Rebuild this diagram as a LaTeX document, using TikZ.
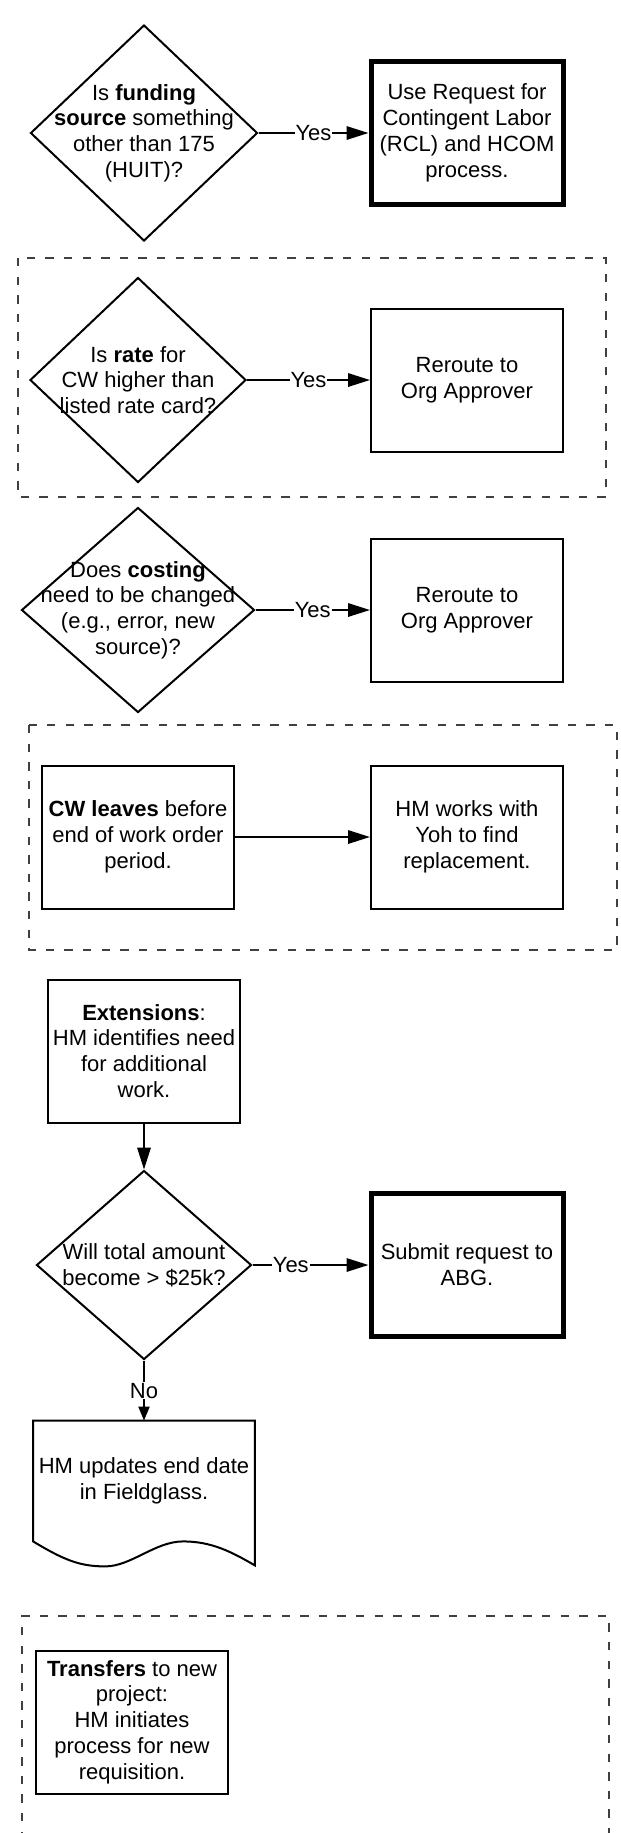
\documentclass[tikz,border=0pt]{standalone}
\usepackage{fontspec}
\setmainfont{Liberation Sans}
\usetikzlibrary{shapes.geometric, arrows.meta}
\tikzset{> = {Triangle[length=11pt, width=6.7pt]}}
\tikzset{
  process/.style = {rectangle, draw, line width=1pt, minimum width=96pt, minimum height=71.5pt, inner sep=0pt, align=center, font=\fontsize{11}{12.9}\selectfont},
  final/.style = {process, line width=2.5pt},
  decision/.style = {diamond, draw, line width=1pt, inner sep=0pt},
  qtext/.style = {align=center, inner sep=0pt, font=\fontsize{11}{12.9}\selectfont},
  choice/.style = {fill=white, inner sep=0.5pt, font=\fontsize{11}{12.9}\selectfont},
  dashedframe/.style = {draw=black!75, line width=1pt, dash pattern=on 4.2pt off 5.1pt}
}

\begin{document}
\begin{tikzpicture}[x=0.5pt, y=-0.5pt]
\useasboundingbox (0,0) rectangle (621,1833);
% dashed groups
\draw[dashedframe] (18,258) rectangle (606,497);
\draw[dashedframe] (29,725) rectangle (617,950);
\draw[dashedframe] (22,1840) -- (22,1616) -- (609,1616) -- (609,1840);
% nodes
\node[decision, minimum width=113.5pt, minimum height=108pt] (d1) at (144,133) {};
\node[qtext] (t1) at (d1) {Is \textbf{funding}\\\textbf{source} something\\other than 175\\(HUIT)?};
\node[final] (b1) at (467,133) {Use Request for\\Contingent Labor\\(RCL) and HCOM\\process.};

\node[decision, minimum width=108pt, minimum height=102.5pt] (d2) at (138,380) {};
\node[qtext] (t2) at (d2) {Is \textbf{rate} for\\CW higher than\\listed rate card?};
\node[process] (b2) at (467,380) {Reroute to\\Org Approver};

\node[decision, minimum width=116.5pt, minimum height=102.5pt] (d3) at (138,610) {};
\node[qtext] (t3) at (d3) {Does \textbf{costing}\\need to be changed\\(e.g., error, new\\source)?};
\node[process] (b3) at (467,610) {Reroute to\\Org Approver};

\node[process] (b4) at (138,837) {\textbf{CW leaves} before\\end of work order\\period.};
\node[process] (b5) at (467,837) {HM works with\\Yoh to find\\replacement.};

\node[process] (b6) at (144,1051) {\textbf{Extensions}:\\HM identifies need\\for additional\\work.};
\node[decision, minimum width=107.5pt, minimum height=94.5pt] (d4) at (144,1265) {};
\node[qtext] (t4) at (d4) {Will total amount\\become > \$25k?};
\node[final] (b7) at (467,1265) {Submit request to\\ABG.};

\node[qtext, minimum width=110.5pt, minimum height=60pt] (doc) at (144,1481) {HM updates end date\\in Fieldglass.};
\draw[line width=1pt] (doc.south west)
  .. controls +(15pt,-9pt) and +(-13pt,0pt) .. ([xshift=36pt, yshift=-12.5pt]doc.south west)
  .. controls +(13pt,0pt) and +(-14pt,0pt) .. ([xshift=75pt]doc.south west)
  .. controls +(14pt,0pt) and +(-12pt,7pt) .. ([yshift=-12pt]doc.south east)
  -- (doc.north east) -- (doc.north west) -- cycle;

\node[process] (b8) at (132,1722) {\textbf{Transfers} to new\\project:\\HM initiates\\process for new\\requisition.};
% edges
\draw[->, line width=1pt]
(d1) edge node[choice] {Yes} (b1)
(d2) edge node[choice] {Yes} (b2)
(d3) edge node[choice] {Yes} (b3)
(b4) edge (b5)
(b6) edge (d4)
(d4) edge node[choice, pos=0.33] {Yes} (b7)
(d4) edge[-{Triangle[length=7pt, width=5.5pt]}] node[choice] {No} (doc);
\end{tikzpicture}
\end{document}
